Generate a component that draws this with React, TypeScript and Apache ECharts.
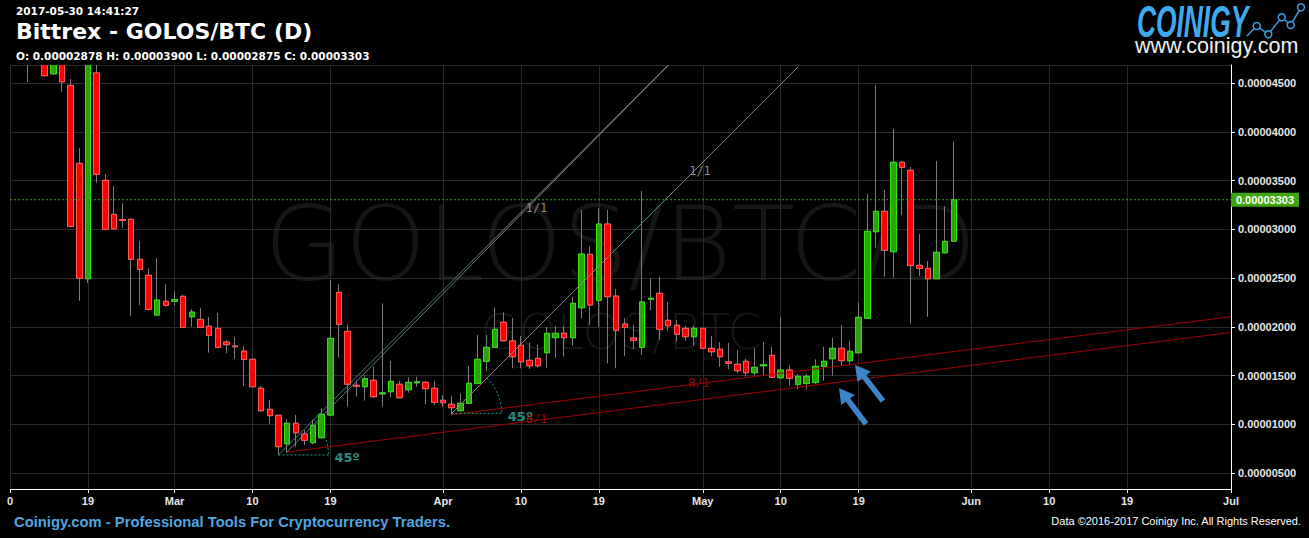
import React, { useEffect, useRef } from 'react';
import * as echarts from 'echarts';

const SAT = 1e-8;

// Daily candles as [open, close, low, high] in satoshi
const febOHLC = [ // Feb 10 - Feb 28
  [5050, 4950, 4800, 5200], [4950, 5000, 4750, 5100], [4900, 4800, 4510, 5000], [4850, 4900, 4680, 4950],
  [4900, 4575, 4575, 4950], [4595, 4800, 4585, 4900], [4800, 4513, 4411, 4850], [4476, 3030, 3020, 4541],
  [3676, 2497, 2267, 3833], [2493, 4800, 2450, 4900], [4603, 3564, 3477, 4750], [3502, 2999, 2990, 3567],
  [3153, 3005, 3000, 3444], [3100, 3090, 3016, 3269], [3102, 2692, 2110, 3110], [2692, 2589, 2223, 2879],
  [2528, 2179, 2170, 2599], [2120, 2274, 2110, 2702], [2261, 2220, 2206, 2438],
];
const marOHLC = [
  [2260, 2280, 2220, 2367], [2312, 1994, 1990, 2330], [2103, 2151, 2000, 2182], [2076, 1994, 1990, 2195],
  [2005, 1912, 1734, 2100], [1984, 1789, 1780, 2141], [1843, 1816, 1728, 1864], [1803, 1795, 1672, 1895],
  [1751, 1666, 1392, 1803], [1666, 1385, 1380, 1680], [1369, 1139, 1130, 1392], [1153, 1088, 1003, 1249],
  [1092, 770, 685, 1100], [800, 1010, 705, 1051], [1010, 913, 770, 1095], [900, 835, 787, 941],
  [811, 989, 794, 1044], [862, 1102, 855, 1164], [1095, 1881, 1090, 2480], [2353, 2025, 1683, 2438],
  [1953, 1410, 1180, 2025], [1400, 1390, 1283, 1454], [1385, 1467, 1242, 1505], [1451, 1283, 1270, 1590],
  [1312, 1322, 1180, 2240], [1334, 1440, 1276, 1649], [1410, 1272, 1265, 1444], [1354, 1430, 1324, 1482],
  [1425, 1435, 1385, 1488], [1430, 1365, 1208, 1444], [1369, 1225, 1197, 1444],
];
const aprOHLC = [
  [1246, 1221, 1180, 1300], [1205, 1170, 1095, 1290], [1139, 1215, 1130, 1317], [1215, 1420, 1210, 1597],
  [1420, 1666, 1410, 1915], [1646, 1789, 1549, 1915], [1789, 1974, 1780, 2199], [2046, 1857, 1850, 2148],
  [1854, 1693, 1574, 2092], [1810, 1641, 1574, 1908], [1656, 1600, 1567, 1840], [1676, 1600, 1580, 1813],
  [1734, 1933, 1580, 2000], [1888, 1933, 1682, 2008], [1933, 1888, 1693, 2008], [1888, 2240, 1806, 2308],
  [2195, 2746, 2087, 3197], [2743, 2223, 2018, 2828], [2271, 3054, 2000, 3215], [3054, 2308, 1625, 3197],
  [2315, 1964, 1574, 2387], [2028, 1994, 1703, 2090], [1885, 1861, 1769, 2018], [1789, 2254, 1713, 3392],
  [2283, 2293, 2172, 2497], [2343, 1974, 1864, 2513], [2066, 2011, 1959, 2254], [2015, 1923, 1847, 2069],
  [1984, 1898, 1857, 2008], [1898, 1984, 1806, 2011],
];
const mayOHLC = [ // May 1 - May 30
  [1984, 1779, 1770, 1990], [1779, 1744, 1700, 1905], [1769, 1693, 1590, 1844], [1640, 1625, 1564, 1836],
  [1615, 1549, 1523, 1762], [1646, 1529, 1488, 1672], [1529, 1584, 1498, 1779], [1600, 1610, 1505, 1844],
  [1707, 1481, 1475, 1795], [1477, 1556, 1470, 2097], [1556, 1471, 1395, 1605], [1410, 1492, 1358, 1515],
  [1420, 1492, 1358, 1515], [1430, 1594, 1410, 1666], [1594, 1646, 1447, 1795], [1672, 1779, 1498, 1885],
  [1779, 1652, 1600, 2018], [1652, 1748, 1605, 1854], [1734, 2097, 1730, 2247], [2087, 2979, 2080, 3361],
  [2975, 3184, 2811, 4479], [3184, 2784, 2513, 3402], [2770, 3687, 2503, 4028], [3687, 3635, 3146, 3700],
  [3605, 2630, 2031, 3638], [2630, 2599, 2523, 2951], [2599, 2493, 2103, 2674], [2493, 2764, 2490, 3700],
  [2759, 2876, 2750, 3238], [2878, 3303, 2875, 3900],
];

const axisStart = Date.UTC(2017, 1, 10);
const axisEnd = Date.UTC(2017, 6, 1);

const tickDates = ['2017-02-10', '2017-02-19', '2017-03-01', '2017-03-10', '2017-03-19', '2017-04-01', '2017-04-10',
  '2017-04-19', '2017-05-01', '2017-05-10', '2017-05-19', '2017-06-01', '2017-06-10', '2017-06-19', '2017-07-01'];
const tickLabels = ['0', '19', 'Mar', '10', '19', 'Apr', '10', '19', 'May', '10', '19', 'Jun', '10', '19', 'Jul'];

const yMinSat = 336;
const yMaxSat = 4685;

// Gann fan annotation lines: [date, satoshi] endpoints
const fan1Teal = [['2017-03-13', 685], ['2017-04-05', 2728]];
const fan1Gray = [['2017-04-05', 2728], ['2017-04-27', 4682]];
const fan1bGray = [['2017-03-14', 718], ['2017-04-27', 4682]];
const fan2Gray = [['2017-04-02', 1112], ['2017-05-12', 4665]];
const fan2Teal = [['2017-04-20', 2711], ['2017-04-27', 3333]];
const red8Lower = [['2017-03-14', 715], ['2017-07-01', 1942]];
const red8Upper = [['2017-04-02', 1098], ['2017-07-01', 2103]];
const angleOrigins = [['2017-03-13', 685], ['2017-04-02', 1112]];

const titleTime = '2017-05-30 14:41:27';
const titleText = 'Bittrex - GOLOS/BTC (D)';
const watermarkBig = 'GOLOS/BTC/D';
const watermarkSmall = 'GOLOS/BTC';

function buildCategories(): string[] {
  const out: string[] = [];
  for (let t = axisStart; t <= axisEnd; t += 86400000) out.push(new Date(t).toISOString().slice(0, 10));
  return out;
}

function arrowPoints(tip: number[], tail: number[], shaft = 5.5, head = 17, headLen = 15) {
  const dx = tip[0] - tail[0], dy = tip[1] - tail[1];
  const len = Math.hypot(dx, dy);
  const ux = dx / len, uy = dy / len;
  const nx = -uy, ny = ux;
  const nk = [tip[0] - ux * headLen, tip[1] - uy * headLen];
  const s = shaft / 2, h = head / 2;
  return [
    [tail[0] + nx * s, tail[1] + ny * s],
    [nk[0] + nx * s, nk[1] + ny * s],
    [nk[0] + nx * h, nk[1] + ny * h],
    tip,
    [nk[0] - nx * h, nk[1] - ny * h],
    [nk[0] - nx * s, nk[1] - ny * s],
    [tail[0] - nx * s, tail[1] - ny * s],
  ];
}

export default function App() {
  const ref = useRef<HTMLDivElement>(null);

  useEffect(() => {
    if (!ref.current) return;
    const chart = echarts.init(ref.current, null, { renderer: 'svg' });
    const categories = buildCategories();
    const candles = [...febOHLC, ...marOHLC, ...aprOHLC, ...mayOHLC];
    const wickData = candles.map(([o, c, l, h]) => [o * SAT, c * SAT, l * SAT, h * SAT]);
    const bodyData = candles.map(([o, c]) => [o * SAT, c * SAT, Math.min(o, c) * SAT, Math.max(o, c) * SAT]);
    const last = candles[candles.length - 1];
    const fmt = (v: number) => (v * SAT).toFixed(8);
    const ohlcText = `O: ${fmt(last[0])} H: ${fmt(last[3])} L: ${fmt(last[2])} C: ${fmt(last[1])}`;
    const tickSet = new Set(tickDates);
    const labelMap: Record<string, string> = {};
    tickDates.forEach((d, i) => (labelMap[d] = tickLabels[i]));
    const isTick = (_i: number, v: string) => tickSet.has(v);

    const lineSeries = (pts: any[], color: string, dash?: number[]) => ({
      type: 'line',
      data: pts.map(([d, v]) => [d, v * SAT]),
      symbol: 'none',
      silent: true,
      z: 3,
      lineStyle: { color, width: 1, type: dash || 'solid' },
    });

    const labelFont = '"Liberation Sans", Arial, sans-serif';
    const priceLine = [[categories[0], last[1]], [categories[categories.length - 1], last[1]]];

    chart.setOption({
      animation: false,
      backgroundColor: '#000',
      grid: { left: 10, right: 78, top: 65, bottom: 49, containLabel: false, outerBoundsMode: 'none' },
      xAxis: {
        type: 'category',
        data: categories,
        boundaryGap: false,
        axisLine: { show: true, lineStyle: { color: '#ffffff', width: 1 } },
        axisTick: { show: true, interval: isTick, length: 4, lineStyle: { color: '#ffffff' } },
        axisLabel: {
          interval: isTick,
          formatter: (v: string) => labelMap[v] || '',
          color: '#e6e6e6', fontWeight: 'bold', fontSize: 11, fontFamily: labelFont, margin: 6,
        },
        splitLine: { show: true, interval: isTick, lineStyle: { color: '#2a2a2a', width: 1 } },
      },
      yAxis: {
        type: 'value',
        position: 'right',
        min: yMinSat * SAT,
        max: yMaxSat * SAT,
        splitNumber: 9,
        axisLine: { show: true, lineStyle: { color: '#ffffff', width: 1 } },
        axisTick: { show: true, length: 4, lineStyle: { color: '#ffffff' } },
        axisLabel: {
          color: '#e6e6e6', fontWeight: 'bold', fontSize: 11, fontFamily: labelFont, margin: 7,
          showMinLabel: false, showMaxLabel: false,
          formatter: (v: number) => v.toFixed(8),
        },
        splitLine: { show: true, lineStyle: { color: '#2a2a2a', width: 1 } },
      },
      series: [
        {
          type: 'candlestick',
          data: wickData,
          barWidth: 6,
          clip: true,
          silent: true,
          itemStyle: { color: '#7c7c7c', color0: '#7c7c7c', borderColor: '#7c7c7c', borderColor0: '#7c7c7c', borderWidth: 1 },
        },
        {
          type: 'candlestick',
          data: bodyData,
          barWidth: 6,
          clip: true,
          silent: true,
          itemStyle: { color: '#2ca20b', color0: '#ff0000', borderColor: '#2de50c', borderColor0: '#ff5a5a', borderWidth: 1 },
        },
        lineSeries(priceLine, '#3e9e18', [2, 2]),
        lineSeries(red8Lower, '#a00000'),
        lineSeries(red8Upper, '#a00000'),
        lineSeries(fan1bGray, '#7a7a7a'),
        lineSeries(fan1Gray, '#8a8a8a'),
        lineSeries(fan1Teal, '#3d8c82'),
        lineSeries(fan2Gray, '#8a8a8a'),
        lineSeries(fan2Teal, '#3d8c82'),
      ],
    });

    const px = (d: string, v: number) =>
      chart.convertToPixel({ xAxisIndex: 0, yAxisIndex: 0 }, [categories.indexOf(d), v * SAT]) as number[];
    const gridTop = px(categories[0], yMaxSat)[1];
    const gridLeft = px(categories[0], yMaxSat)[0];
    const gridBottom = px(categories[0], yMinSat)[1];
    const gridRight = px(categories[categories.length - 1], yMinSat)[0];

    const graphics: any[] = [];
    // mask outside plot so candles beyond the axis range are cut at the plot edge
    graphics.push({ type: 'rect', z: 5, silent: true, shape: { x: 0, y: 0, width: gridRight, height: gridTop }, style: { fill: '#000' } });
    graphics.push({ type: 'rect', z: 5, silent: true, shape: { x: 0, y: 0, width: gridLeft, height: gridBottom }, style: { fill: '#000' } });
    // watermark
    graphics.push({
      type: 'text', x: 620.5, y: 244, z: -1, silent: true,
      style: { text: watermarkBig, font: '200 104px "DejaVu Sans"', fill: '#161616', textAlign: 'center', textVerticalAlign: 'middle' },
    });
    graphics.push({
      type: 'text', x: 621, y: 332, z: -1, silent: true,
      style: { text: watermarkSmall, font: '200 49px "DejaVu Sans"', fill: '#161616', textAlign: 'center', textVerticalAlign: 'middle' },
    });
    // header
    graphics.push({
      type: 'text', x: 16, y: 11, z: 10,
      style: { text: titleTime, font: 'bold 10.5px "DejaVu Sans"', fill: '#ffffff', textVerticalAlign: 'middle' },
    });
    graphics.push({
      type: 'text', x: 16, y: 31.5, z: 10,
      style: { text: titleText, font: 'bold 22px "DejaVu Sans"', fill: '#ffffff', textVerticalAlign: 'middle' },
    });
    graphics.push({
      type: 'text', x: 16, y: 56, z: 10,
      style: { text: ohlcText, font: 'bold 10.5px "DejaVu Sans"', fill: '#ffffff', textVerticalAlign: 'middle' },
    });
    // logo
    graphics.push({
      type: 'text', x: 1137, y: 22, z: 10, scaleX: 0.775, scaleY: 1.3,
      style: {
        text: 'COINIGY', fontSize: 34, fontWeight: 'bold', fontStyle: 'italic', fontFamily: 'Liberation Sans',
        textVerticalAlign: 'middle', fill: '#3eabf0',
      },
    });
    const iconPts = [[1247, 36], [1256.7, 26], [1268.3, 34.3], [1281.7, 17.3], [1290.7, 25], [1301, 7.3]];
    graphics.push({
      type: 'polyline', z: 10, shape: { points: iconPts },
      style: { stroke: '#3a9fe2', lineWidth: 1.5, fill: 'none' },
    });
    iconPts.slice(1).forEach((p) =>
      graphics.push({
        type: 'circle', z: 11, shape: { cx: p[0], cy: p[1], r: 3.5 },
        style: { stroke: '#3a9fe2', lineWidth: 1.5, fill: '#000' },
      }),
    );
    graphics.push({
      type: 'text', x: 1135, y: 46, z: 10,
      style: { text: 'www.coinigy.com', font: '21.5px "Liberation Sans"', fill: '#f2f2f2', textVerticalAlign: 'middle' },
    });
    // footer
    graphics.push({
      type: 'text', x: 14, y: 522, z: 10,
      style: { text: 'Coinigy.com - Professional Tools For Cryptocurrency Traders.', font: 'bold 14.8px "Liberation Sans"', fill: '#4ea7e1', textVerticalAlign: 'middle' },
    });
    graphics.push({
      type: 'text', x: 1301, y: 521, z: 10,
      style: { text: 'Data \u00a92016-2017 Coinigy Inc. All Rights Reserved.', font: '11px "Liberation Sans"', fill: '#ffffff', textAlign: 'right', textVerticalAlign: 'middle' },
    });
    // last price tag on the axis
    const lp = px(categories[categories.length - 1], last[1]);
    graphics.push({
      type: 'rect', z: 12, shape: { x: lp[0], y: lp[1] - 7, width: 68, height: 14 },
      style: { fill: '#3fa60d' },
    });
    graphics.push({
      type: 'text', x: lp[0] + 34, y: lp[1], z: 13,
      style: { text: fmt(last[1]), font: 'bold 11px "Liberation Sans"', fill: '#ffffff', textAlign: 'center', textVerticalAlign: 'middle' },
    });
    // 45 degree markers
    angleOrigins.forEach(([d, v]) => {
      const o = px(d as string, v as number);
      graphics.push({
        type: 'line', z: 20, shape: { x1: o[0], y1: o[1], x2: o[0] + 50, y2: o[1] },
        style: { stroke: '#1f9d8b', lineWidth: 1, lineDash: [2, 2] },
      });
      graphics.push({
        type: 'arc', z: 20, shape: { cx: o[0], cy: o[1], r: 50, startAngle: -Math.PI / 4, endAngle: 0, clockwise: true },
        style: { stroke: '#1f9d8b', lineWidth: 1, lineDash: [2, 2], fill: 'none' },
      });
      graphics.push({
        type: 'text', x: o[0] + 56, y: o[1] + 3, z: 20,
        style: { text: '45º', font: 'bold 13px "DejaVu Sans"', fill: '#2a8a7e', textVerticalAlign: 'middle' },
      });
    });
    // fan ratio labels
    const ratioLabels = [
      ['1/1', 536.5, 207.5, '#8a8a8a'], ['1/1', 700, 171, '#8a8a8a'],
      ['8/1', 536.5, 419, '#8b0c0c'], ['8/1', 699, 382.5, '#8b0c0c'],
    ];
    ratioLabels.forEach(([t, x, y, c]) =>
      graphics.push({
        type: 'text', x, y, z: 20,
        style: { text: t, font: '12px "DejaVu Sans Mono"', fill: c, textAlign: 'center', textVerticalAlign: 'middle' },
      }),
    );
    // blue arrows
    [[[855, 365], [883, 401]], [[839, 388], [866, 424]]].forEach(([tip, tail]) =>
      graphics.push({
        type: 'polygon', z: 30, shape: { points: arrowPoints(tip, tail) },
        style: { fill: '#3d85c6' },
      }),
    );

    chart.setOption({ graphic: { elements: graphics } });

    return () => chart.dispose();
  }, []);

  return (
    <div
      ref={ref}
      style={{ position: 'absolute', left: 0, top: 0, width: 1309, height: 538, background: '#000' }}
    />
  );
}
